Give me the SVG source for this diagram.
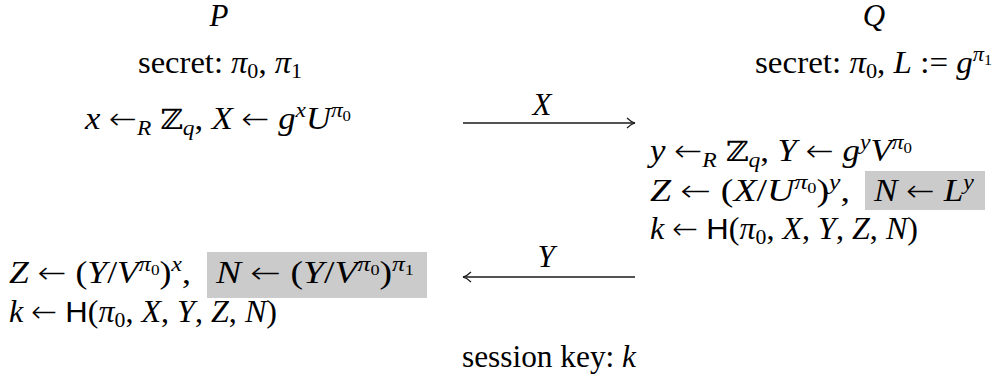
<svg xmlns="http://www.w3.org/2000/svg" width="998" height="387" viewBox="0 0 998 387">
<defs>
<style>
.t{font-family:"Liberation Serif","DejaVu Serif",serif;font-size:31px;fill:#000}
.i{font-style:italic}
.s{font-size:21px}
.ss{font-size:15px}
.a{font-family:"DejaVu Sans",sans-serif;font-weight:200;font-size:30px}
.bb{font-family:"DejaVu Serif","DejaVu Sans",serif;font-size:28px}
.sf{font-family:"Liberation Sans","DejaVu Sans",sans-serif;font-size:30px}
.hl{fill:#cbcbcb}
.arr{stroke:#1a1a1a;stroke-width:1.3;fill:none}
</style>
<marker id="head" viewBox="0 0 10 12" refX="9" refY="6" markerWidth="10" markerHeight="12" markerUnits="userSpaceOnUse" orient="auto-start-reverse">
<path d="M1,1 Q5,5 9,6 Q5,7 1,11" fill="none" stroke="#1a1a1a" stroke-width="1.2"/>
</marker>
</defs>
<rect width="998" height="387" fill="#fff"/>

<g id="P">
<text class="t i" x="219" y="26" text-anchor="middle">P</text>
<text class="t" x="138" y="73" textLength="164" lengthAdjust="spacingAndGlyphs">secret: <tspan class="i">π</tspan><tspan class="s" dy="5">0</tspan><tspan dy="-5">, </tspan><tspan class="i">π</tspan><tspan class="s" dy="5">1</tspan></text>
<text class="t" x="85" y="129" textLength="266" lengthAdjust="spacingAndGlyphs"><tspan class="i">x</tspan> <tspan class="a">←</tspan><tspan class="i s" dy="6">R</tspan><tspan dy="-6"> </tspan><tspan class="bb">ℤ</tspan><tspan class="i s" dy="6">q</tspan><tspan dy="-6">, </tspan><tspan class="i">X</tspan> <tspan class="a">←</tspan> <tspan class="i">g</tspan><tspan class="i s" dy="-12">x</tspan><tspan class="i" dy="12">U</tspan><tspan class="i s" dy="-12">π</tspan><tspan class="ss" dy="4">0</tspan></text>
</g>

<g id="P-final">
<rect class="hl" x="207" y="252" width="220" height="46"/>
<text class="t" x="9" y="283" textLength="182" lengthAdjust="spacingAndGlyphs"><tspan class="i">Z</tspan> <tspan class="a">←</tspan> (<tspan class="i">Y</tspan>/<tspan class="i">V</tspan><tspan class="i s" dy="-12">π</tspan><tspan class="ss" dy="4">0</tspan><tspan dy="8">)</tspan><tspan class="i s" dy="-12">x</tspan><tspan dy="12">,</tspan></text>
<text class="t" x="216" y="283" textLength="198" lengthAdjust="spacingAndGlyphs"><tspan class="i">N</tspan> <tspan class="a">←</tspan> (<tspan class="i">Y</tspan>/<tspan class="i">V</tspan><tspan class="i s" dy="-12">π</tspan><tspan class="ss" dy="4">0</tspan><tspan dy="8">)</tspan><tspan class="i s" dy="-12">π</tspan><tspan class="ss" dy="4">1</tspan></text>
<text class="t" x="9" y="322" textLength="268" lengthAdjust="spacingAndGlyphs"><tspan class="i">k</tspan> <tspan class="a">←</tspan> <tspan class="sf">H</tspan>(<tspan class="i">π</tspan><tspan class="s" dy="5">0</tspan><tspan dy="-5">, </tspan><tspan class="i">X</tspan>, <tspan class="i">Y</tspan>, <tspan class="i">Z</tspan>, <tspan class="i">N</tspan>)</text>
</g>

<g id="Q">
<text class="t i" x="874" y="26" text-anchor="middle">Q</text>
<text class="t" x="755" y="73" textLength="237" lengthAdjust="spacingAndGlyphs">secret: <tspan class="i">π</tspan><tspan class="s" dy="5">0</tspan><tspan dy="-5">, </tspan><tspan class="i">L</tspan> := <tspan class="i">g</tspan><tspan class="i s" dy="-12">π</tspan><tspan class="ss" dy="4">1</tspan></text>
</g>

<g id="Q-compute">
<rect class="hl" x="865" y="171" width="120" height="39"/>
<text class="t" x="650" y="161" textLength="262" lengthAdjust="spacingAndGlyphs"><tspan class="i">y</tspan> <tspan class="a">←</tspan><tspan class="i s" dy="6">R</tspan><tspan dy="-6"> </tspan><tspan class="bb">ℤ</tspan><tspan class="i s" dy="6">q</tspan><tspan dy="-6">,  </tspan><tspan class="i">Y</tspan> <tspan class="a">←</tspan> <tspan class="i">g</tspan><tspan class="i s" dy="-12">y</tspan><tspan class="i" dy="12">V</tspan><tspan class="i s" dy="-12">π</tspan><tspan class="ss" dy="4">0</tspan></text>
<text class="t" x="650" y="201" textLength="200" lengthAdjust="spacingAndGlyphs"><tspan class="i">Z</tspan> <tspan class="a">←</tspan> (<tspan class="i">X</tspan>/<tspan class="i">U</tspan><tspan class="i s" dy="-12">π</tspan><tspan class="ss" dy="4">0</tspan><tspan dy="8">)</tspan><tspan class="i s" dy="-12">y</tspan><tspan dy="12">,</tspan></text>
<text class="t" x="874" y="201" textLength="100" lengthAdjust="spacingAndGlyphs"><tspan class="i">N</tspan> <tspan class="a">←</tspan> <tspan class="i">L</tspan><tspan class="i s" dy="-12">y</tspan></text>
<text class="t" x="650" y="239" textLength="268" lengthAdjust="spacingAndGlyphs"><tspan class="i">k</tspan> <tspan class="a">←</tspan> <tspan class="sf">H</tspan>(<tspan class="i">π</tspan><tspan class="s" dy="5">0</tspan><tspan dy="-5">, </tspan><tspan class="i">X</tspan>, <tspan class="i">Y</tspan>, <tspan class="i">Z</tspan>, <tspan class="i">N</tspan>)</text>
</g>

<g id="connectors">
<line class="arr" x1="463" y1="123" x2="635" y2="123" marker-end="url(#head)"/>
<text class="t i" x="542" y="115" text-anchor="middle">X</text>
<line class="arr" x1="635" y1="277" x2="463" y2="277" marker-end="url(#head)"/>
<text class="t i" x="546" y="267" text-anchor="middle">Y</text>
</g>

<g id="session">
<text class="t" x="462" y="367" textLength="174" lengthAdjust="spacingAndGlyphs">session key: <tspan class="i">k</tspan></text>
</g>
</svg>
